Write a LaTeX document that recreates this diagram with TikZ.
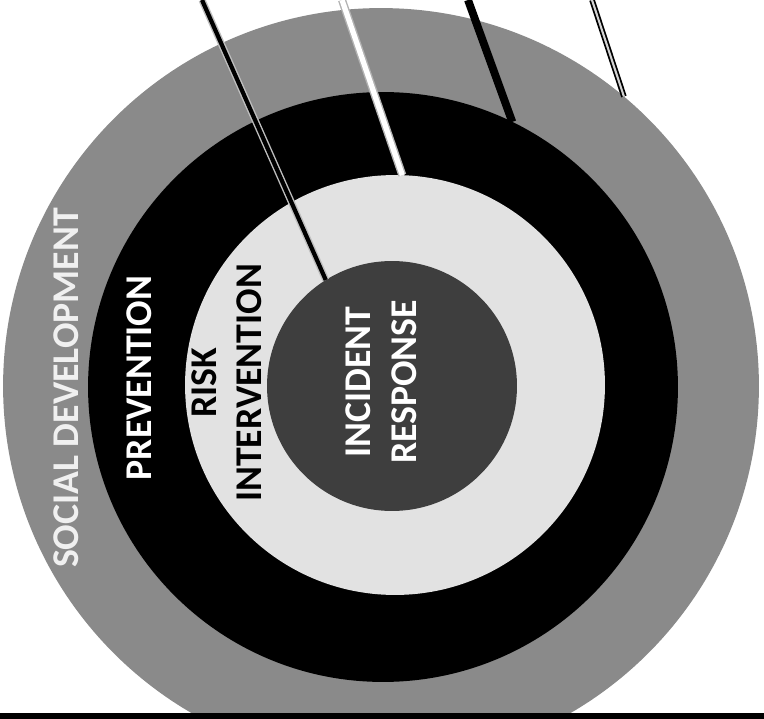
\documentclass[tikz,border=0pt]{standalone}
\usepackage{fontspec}
\setmainfont{Carlito}
\usepackage{tikz}
\usetikzlibrary{positioning}
\usepackage{xcolor}
\definecolor{rgOuter}{HTML}{8A8A8A}
\definecolor{rgLight}{HTML}{E2E2E2}
\definecolor{rgCore}{HTML}{3E3E3E}
\tikzset{
    ring/.style={circle,inner sep=0pt,outer sep=0pt,draw=none},
    ringtext/.style={rotate=90,align=center,inner sep=0pt,font=\fontsize{21.5}{26}\selectfont\bfseries},
    % leader lines from the top edge
    leaderdark/.style={draw=gray!50,double=black,double distance=2.4pt,line width=0.8pt},
    leaderwhite/.style={draw=gray!60,double=white,double distance=3pt,line width=0.8pt},
    leaderbold/.style={draw=black,line width=4.5pt},
    leaderthin/.style={draw=black,double=gray!35,double distance=1.2pt,line width=1pt}
}

\begin{document}
\begin{tikzpicture}[x=0.02cm,y=-0.02cm]
    \useasboundingbox (0,0) rectangle (764,719);
    % Rings (cut at the bottom edge)
    \begin{scope}
        \clip (0,0) rectangle (764,713);
        \node[ring,fill=rgOuter,minimum size=15.12cm] at (381,386) (social) {};
        \node[ring,fill=black,minimum size=11.8cm] at (383,387) (prev) {};
        \node[ring,fill=rgLight,minimum size=8.4cm] at (395,385) (risk) {};
        \node[ring,fill=rgCore,minimum size=5cm] at (392,386) (core) {};
    \end{scope}
    \fill[black] (0,713) rectangle (764,719);
    % Ring labels
    \node[ringtext,text=gray!12] at (66,388) (tsocial) {SOCIAL DEVELOPMENT};
    \node[ringtext,text=white] at (139,378) (tprev) {PREVENTION};
    \node[ringtext,text=black,font=\fontsize{21.5}{25.6}\selectfont\bfseries] at (227,383) (trisk) {RISK\\INTERVENTION};
    \node[ringtext,text=white] at (381,382) (tcore) {INCIDENT\\RESPONSE};
    % Leaders
    \coordinate (topA) at (202,0);
    \coordinate (topB) at (342,0);
    \coordinate (topC) at (468,0);
    \coordinate (topD) at (592,0);
    \draw[leaderdark] (topA) -- (core.122);
    \draw[leaderwhite] (topB) -- (risk.88);
    \draw[leaderbold] (topC) -- (prev.64);
    \draw[leaderthin] (topD) -- (social.50);
\end{tikzpicture}
\end{document}
